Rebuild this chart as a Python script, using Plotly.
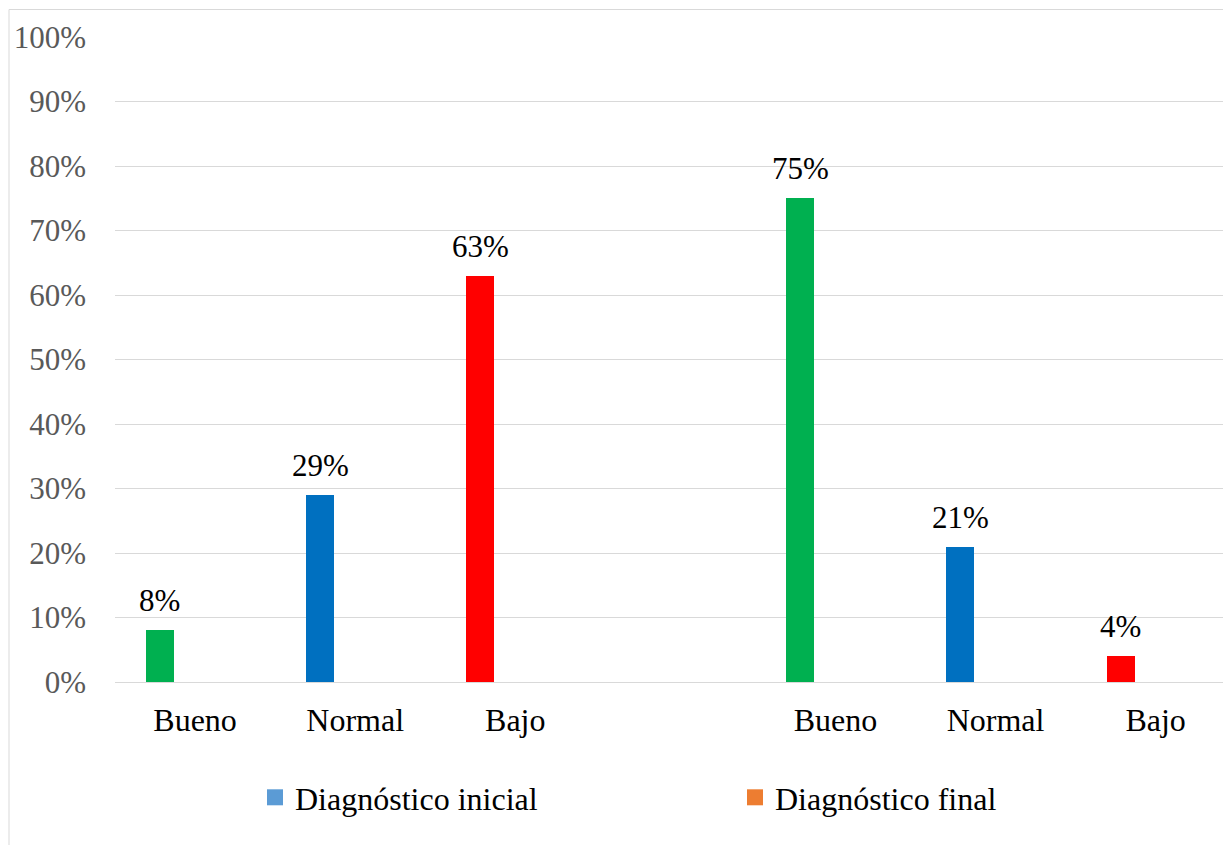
import plotly.graph_objects as go

# --- data ---
categories = ["Bueno", "Normal", "Bajo", "", "Bueno", "Normal", "Bajo"]
cat_colors = {"Bueno": "#00B050", "Normal": "#0070C0", "Bajo": "#FF0000"}
inicial_pos = [0, 1, 2]
inicial_vals = [8, 29, 63]
final_pos = [4, 5, 6]
final_vals = [75, 21, 4]
y_ticks = [0, 10, 20, 30, 40, 50, 60, 70, 80, 90, 100]
y_ticktext = [f"{v}%" for v in y_ticks]
series_names = ["Diagnóstico inicial", "Diagnóstico final"]
legend_colors = ["#5B9BD5", "#ED7D31"]

FONT = "Liberation Serif"
BAR_OFFSET = -0.307
BAR_WIDTH = 0.175

fig = go.Figure()

for pos, vals, name in [(inicial_pos, inicial_vals, series_names[0]),
                        (final_pos, final_vals, series_names[1])]:
    fig.add_trace(go.Bar(
        x=pos, y=vals, name=name, showlegend=False,
        marker=dict(color=[cat_colors[categories[p]] for p in pos], line=dict(width=0)),
        offset=BAR_OFFSET, width=BAR_WIDTH,
    ))

# legend entries
for i, (name, col) in enumerate(zip(series_names, legend_colors)):
    fig.add_trace(go.Scatter(
        x=[None], y=[None], mode="markers", name=name,
        marker=dict(symbol="square", size=16, color=col),
        legend="legend" if i == 0 else "legend2",
    ))

# data labels
for pos, vals in [(inicial_pos, inicial_vals), (final_pos, final_vals)]:
    for p, v in zip(pos, vals):
        fig.add_annotation(
            x=p + BAR_OFFSET + BAR_WIDTH / 2, y=v, text=f"{v}%",
            showarrow=False, yanchor="bottom", xanchor="center", yshift=10,
            font=dict(family=FONT, size=31, color="#000000"),
        )

# chart border (left and top visible)
fig.add_shape(type="rect", xref="paper", yref="paper",
              x0=(9 - 115) / 1108, x1=(1240 - 115) / 1108,
              y0=(682.5 - 870) / 645, y1=(682.5 - 10) / 645,
              line=dict(color="#D9D9D9", width=1), fillcolor="rgba(0,0,0,0)",
              layer="below")

leg_y = (682.5 - 798) / 645
fig.update_layout(
    width=1223, height=845,
    margin=dict(l=115, r=0, t=37, b=163),
    paper_bgcolor="white", plot_bgcolor="white",
    font=dict(family=FONT, size=32, color="#000000"),
    bargap=0,
    xaxis=dict(
        range=[-0.5, -0.5 + 1108 / 160.1],
        tickmode="array", tickvals=list(range(len(categories))), ticktext=categories,
        showgrid=False, zeroline=False, showline=False, ticks="",
        tickfont=dict(family=FONT, size=32, color="#000000"),
        ticklabelstandoff=16,
    ),
    yaxis=dict(
        range=[0, 100], tickmode="array", tickvals=y_ticks, ticktext=y_ticktext,
        showgrid=True, gridcolor="#D9D9D9", gridwidth=1,
        zeroline=True, zerolinecolor="#D9D9D9", zerolinewidth=1,
        showline=False, ticks="",
        tickfont=dict(family=FONT, size=31, color="#595959"),
        ticklabelstandoff=28,
    ),
    legend=dict(x=(255 - 115) / 1108, y=leg_y, xanchor="left", yanchor="middle",
                orientation="h", font=dict(family=FONT, size=32, color="#000000"),
                bgcolor="rgba(0,0,0,0)", borderwidth=0),
    legend2=dict(x=(735 - 115) / 1108, y=leg_y, xanchor="left", yanchor="middle",
                 orientation="h", font=dict(family=FONT, size=32, color="#000000"),
                 bgcolor="rgba(0,0,0,0)", borderwidth=0),
    showlegend=True,
)

fig.write_html("out.html")
